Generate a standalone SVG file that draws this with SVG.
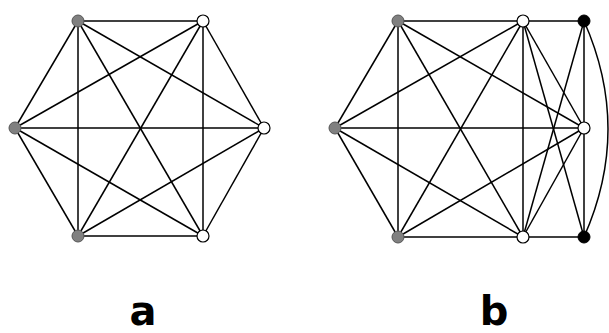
<svg xmlns="http://www.w3.org/2000/svg" width="609" height="333" viewBox="0 0 609 333">
<style>
.e{stroke:#000;stroke-width:1.5;fill:none}
.g{fill:#808080;stroke:#555;stroke-width:1}
.w{fill:#fff;stroke:#000;stroke-width:1.2}
.k{fill:#000;stroke:#000;stroke-width:1}
.lbl{font-family:"DejaVu Sans",sans-serif;font-weight:bold;font-size:40px;text-anchor:middle}
</style>
<rect width="609" height="333" fill="#fff"/>
<g id="connectors">
<g id="edges-a">
<line class="e" x1="78" y1="21" x2="203" y2="21"/>
<line class="e" x1="78" y1="21" x2="264" y2="128"/>
<line class="e" x1="78" y1="21" x2="203" y2="236"/>
<line class="e" x1="78" y1="21" x2="78" y2="236"/>
<line class="e" x1="78" y1="21" x2="15" y2="128"/>
<line class="e" x1="203" y1="21" x2="264" y2="128"/>
<line class="e" x1="203" y1="21" x2="203" y2="236"/>
<line class="e" x1="203" y1="21" x2="78" y2="236"/>
<line class="e" x1="203" y1="21" x2="15" y2="128"/>
<line class="e" x1="264" y1="128" x2="203" y2="236"/>
<line class="e" x1="264" y1="128" x2="78" y2="236"/>
<line class="e" x1="264" y1="128" x2="15" y2="128"/>
<line class="e" x1="203" y1="236" x2="78" y2="236"/>
<line class="e" x1="203" y1="236" x2="15" y2="128"/>
<line class="e" x1="78" y1="236" x2="15" y2="128"/>
</g>
<g id="edges-b">
<line class="e" x1="398" y1="21" x2="523" y2="21"/>
<line class="e" x1="398" y1="21" x2="584" y2="128"/>
<line class="e" x1="398" y1="21" x2="523" y2="237"/>
<line class="e" x1="398" y1="21" x2="398" y2="237"/>
<line class="e" x1="398" y1="21" x2="335" y2="128"/>
<line class="e" x1="523" y1="21" x2="584" y2="128"/>
<line class="e" x1="523" y1="21" x2="523" y2="237"/>
<line class="e" x1="523" y1="21" x2="398" y2="237"/>
<line class="e" x1="523" y1="21" x2="335" y2="128"/>
<line class="e" x1="584" y1="128" x2="523" y2="237"/>
<line class="e" x1="584" y1="128" x2="398" y2="237"/>
<line class="e" x1="584" y1="128" x2="335" y2="128"/>
<line class="e" x1="523" y1="237" x2="398" y2="237"/>
<line class="e" x1="523" y1="237" x2="335" y2="128"/>
<line class="e" x1="398" y1="237" x2="335" y2="128"/>
<line class="e" x1="523" y1="21" x2="584" y2="21"/>
<line class="e" x1="523" y1="21" x2="584" y2="237"/>
<line class="e" x1="523" y1="237" x2="584" y2="237"/>
<line class="e" x1="523" y1="237" x2="584" y2="21"/>
<line class="e" x1="584" y1="21" x2="584" y2="128"/>
<line class="e" x1="584" y1="128" x2="584" y2="237"/>
<path class="e" d="M584,21 Q632,129 584,237"/>
</g>
</g>
<g id="a-n1"><circle class="g" cx="78" cy="21" r="6"/></g>
<g id="a-n2"><circle class="w" cx="203" cy="21" r="6"/></g>
<g id="a-n3"><circle class="w" cx="264" cy="128" r="6"/></g>
<g id="a-n4"><circle class="w" cx="203" cy="236" r="6"/></g>
<g id="a-n5"><circle class="g" cx="78" cy="236" r="6"/></g>
<g id="a-n6"><circle class="g" cx="15" cy="128" r="6"/></g>
<g id="b-n1"><circle class="g" cx="398" cy="21" r="6"/></g>
<g id="b-n2"><circle class="w" cx="523" cy="21" r="6"/></g>
<g id="b-n3"><circle class="k" cx="584" cy="21" r="6"/></g>
<g id="b-n4"><circle class="w" cx="584" cy="128" r="6"/></g>
<g id="b-n5"><circle class="k" cx="584" cy="237" r="6"/></g>
<g id="b-n6"><circle class="w" cx="523" cy="237" r="6"/></g>
<g id="b-n7"><circle class="g" cx="398" cy="237" r="6"/></g>
<g id="b-n8"><circle class="g" cx="335" cy="128" r="6"/></g>
<text class="lbl" x="143" y="325">a</text>
<text class="lbl" x="494" y="325">b</text>
</svg>
